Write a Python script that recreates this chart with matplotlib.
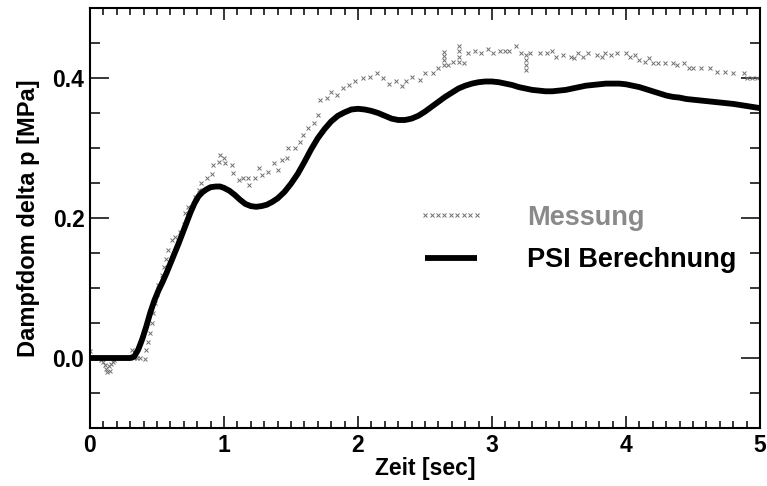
import matplotlib
matplotlib.use("Agg")
import matplotlib.pyplot as plt
from matplotlib.ticker import MultipleLocator

plt.rcParams['font.family'] = ['Liberation Sans', 'DejaVu Sans']
plt.rcParams['font.weight'] = 'bold'

# PSI Berechnung (calculated curve)
calc_t = [0.00, 0.10, 0.20, 0.30, 0.33, 0.36, 0.39, 0.42, 0.45, 0.48, 0.51, 0.54, 0.57, 0.60,
          0.63, 0.66, 0.69, 0.72, 0.75, 0.78, 0.81, 0.84, 0.87, 0.90, 0.94, 0.97, 1.00, 1.04,
          1.08, 1.12, 1.16, 1.20, 1.24, 1.28, 1.32, 1.36, 1.40, 1.45, 1.50, 1.55, 1.60, 1.65,
          1.70, 1.75, 1.80, 1.85, 1.90, 1.95, 2.00, 2.05, 2.10, 2.15, 2.20, 2.25, 2.30, 2.35,
          2.40, 2.45, 2.50, 2.55, 2.60, 2.65, 2.70, 2.75, 2.80, 2.85, 2.90, 2.95, 3.00, 3.05,
          3.10, 3.15, 3.20, 3.25, 3.30, 3.35, 3.40, 3.45, 3.50, 3.55, 3.60, 3.65, 3.70, 3.75,
          3.80, 3.85, 3.90, 3.95, 4.00, 4.05, 4.10, 4.15, 4.20, 4.25, 4.30, 4.35, 4.40, 4.45,
          4.50, 4.60, 4.70, 4.80, 4.90, 5.00]
calc_p = [0.000, 0.000, 0.000, 0.000, 0.002, 0.012, 0.027, 0.045, 0.065, 0.082, 0.096, 0.108, 0.121, 0.135,
          0.149, 0.163, 0.178, 0.193, 0.208, 0.221, 0.231, 0.237, 0.241, 0.244, 0.245, 0.245, 0.243, 0.239,
          0.233, 0.226, 0.220, 0.217, 0.216, 0.217, 0.219, 0.223, 0.228, 0.237, 0.249, 0.263, 0.280, 0.298,
          0.314, 0.327, 0.338, 0.346, 0.351, 0.355, 0.356, 0.355, 0.353, 0.350, 0.346, 0.342, 0.340, 0.340,
          0.342, 0.346, 0.352, 0.359, 0.366, 0.373, 0.379, 0.385, 0.389, 0.392, 0.394, 0.395, 0.395, 0.394,
          0.392, 0.390, 0.387, 0.385, 0.383, 0.382, 0.381, 0.381, 0.382, 0.383, 0.385, 0.387, 0.389, 0.390,
          0.391, 0.392, 0.392, 0.392, 0.391, 0.389, 0.387, 0.384, 0.381, 0.378, 0.375, 0.373, 0.372, 0.370,
          0.369, 0.367, 0.365, 0.363, 0.360, 0.357]

# Messung (measurement)
meas_t = [0.00, 0.01, 0.02, 0.04, 0.06, 0.08, 0.10, 0.11, 0.12, 0.13, 0.14, 0.15, 0.16, 0.17, 0.18,
          0.20, 0.22, 0.24, 0.26, 0.28, 0.30, 0.31, 0.33, 0.35, 0.37,
          0.41, 0.42, 0.435, 0.45, 0.46, 0.47, 0.485, 0.50, 0.51, 0.535, 0.555, 0.57, 0.585, 0.61,
          0.634, 0.67, 0.70, 0.71, 0.73, 0.78, 0.81, 0.83, 0.87, 0.91, 0.92, 0.96, 0.97, 1.00, 1.01,
          1.06, 1.07, 1.11, 1.14, 1.18, 1.19, 1.23, 1.26, 1.28, 1.33, 1.37, 1.405, 1.43, 1.47, 1.48,
          1.53, 1.57, 1.59, 1.63, 1.67, 1.70, 1.72, 1.77, 1.80, 1.84, 1.89, 1.93, 1.98, 2.04, 2.09,
          2.14, 2.19, 2.23, 2.28, 2.33, 2.36, 2.40, 2.46, 2.50, 2.56, 2.60, 2.64, 2.64, 2.64, 2.64,
          2.67, 2.71, 2.75, 2.75, 2.75, 2.75, 2.79, 2.82, 2.87, 2.92, 2.97, 3.01, 3.06, 3.10, 3.13,
          3.18, 3.22, 3.25, 3.25, 3.25, 3.25, 3.28, 3.36, 3.41, 3.45, 3.48, 3.53, 3.59, 3.61, 3.64,
          3.68, 3.72, 3.78, 3.82, 3.84, 3.89, 3.93, 4.00, 4.03, 4.07, 4.10, 4.14, 4.17, 4.20, 4.24,
          4.29, 4.35, 4.38, 4.43, 4.47, 4.50, 4.56, 4.63, 4.68, 4.74, 4.80, 4.88, 4.90, 4.94, 4.98]
meas_p = [0.010, 0.000, 0.000, 0.000, 0.000, -0.003, -0.005, -0.010, -0.015, -0.020, -0.012, -0.018, -0.008, -0.005, -0.003,
          0.000, 0.000, 0.000, 0.000, 0.000, 0.000, 0.011, 0.000, 0.000, 0.000,
          -0.002, 0.011, 0.023, 0.036, 0.050, 0.064, 0.078, 0.092, 0.104, 0.118, 0.130, 0.142, 0.154, 0.169,
          0.173, 0.180, 0.192, 0.207, 0.216, 0.230, 0.240, 0.250, 0.257, 0.263, 0.276, 0.280, 0.290, 0.285, 0.278,
          0.276, 0.264, 0.254, 0.257, 0.257, 0.247, 0.257, 0.271, 0.261, 0.266, 0.278, 0.269, 0.283, 0.285, 0.300,
          0.300, 0.309, 0.319, 0.328, 0.335, 0.347, 0.369, 0.371, 0.380, 0.376, 0.385, 0.390, 0.395, 0.400, 0.402,
          0.407, 0.400, 0.392, 0.395, 0.388, 0.395, 0.402, 0.397, 0.407, 0.407, 0.414, 0.418, 0.425, 0.431, 0.437,
          0.419, 0.423, 0.423, 0.430, 0.438, 0.445, 0.421, 0.435, 0.438, 0.435, 0.442, 0.435, 0.438, 0.438, 0.438,
          0.445, 0.435, 0.411, 0.418, 0.425, 0.433, 0.435, 0.435, 0.435, 0.438, 0.430, 0.433, 0.430, 0.428, 0.435,
          0.430, 0.435, 0.433, 0.430, 0.435, 0.433, 0.435, 0.435, 0.430, 0.433, 0.426, 0.423, 0.428, 0.421, 0.421,
          0.421, 0.421, 0.419, 0.421, 0.414, 0.414, 0.414, 0.414, 0.408, 0.408, 0.407, 0.407, 0.400, 0.400, 0.400]

x_ticks = [0, 1, 2, 3, 4, 5]
y_ticks = [0.0, 0.2, 0.4]
y_tick_labels = ['0.0', '0.2', '0.4']

fig = plt.figure(figsize=(7.67, 4.86), dpi=100)
ax = fig.add_axes([90 / 767, 58 / 486, 670 / 767, 420 / 486])

ax.plot(meas_t, meas_p, linestyle='none', marker='x', markersize=3.0,
        markeredgewidth=0.7, color='#707070', label='Messung')
ax.plot(calc_t, calc_p, color='black', linewidth=4.2, solid_capstyle='butt',
        solid_joinstyle='round', label='PSI Berechnung')

ax.set_xlim(0, 5)
ax.set_ylim(-0.1, 0.5)
ax.set_xticks(x_ticks)
ax.set_xticklabels([str(v) for v in x_ticks])
ax.set_yticks(y_ticks)
ax.set_yticklabels(y_tick_labels)
ax.xaxis.set_minor_locator(MultipleLocator(0.1))
ax.yaxis.set_minor_locator(MultipleLocator(0.05))

for s in ax.spines.values():
    s.set_linewidth(1.5)

ax.tick_params(axis='both', which='both', direction='in', top=True, right=True,
               width=1.1, labelsize=16.5)
ax.tick_params(axis='x', which='major', length=8.6, pad=4)
ax.tick_params(axis='x', which='minor', length=4.7)
ax.tick_params(axis='y', which='major', length=13.5, pad=4)
ax.tick_params(axis='y', which='minor', length=7)
for lab in ax.get_xticklabels() + ax.get_yticklabels():
    lab.set_fontweight('bold')

ax.set_xlabel('Zeit [sec]', fontsize=16.5, fontweight='bold', labelpad=0)
ax.set_ylabel('Dampfdom delta p [MPa]', fontsize=17, fontweight='bold', labelpad=9)

leg = ax.legend(loc='center left', bbox_to_anchor=(0.488, 0.450), frameon=False,
                borderpad=0, borderaxespad=0, handlelength=2.5,
                handletextpad=1.55, labelspacing=0.62, numpoints=9,
                labelcolor=['#8a8a8a', 'black'], prop={'weight': 'bold', 'size': 19.5})

fig.savefig('out.png', dpi=100)
